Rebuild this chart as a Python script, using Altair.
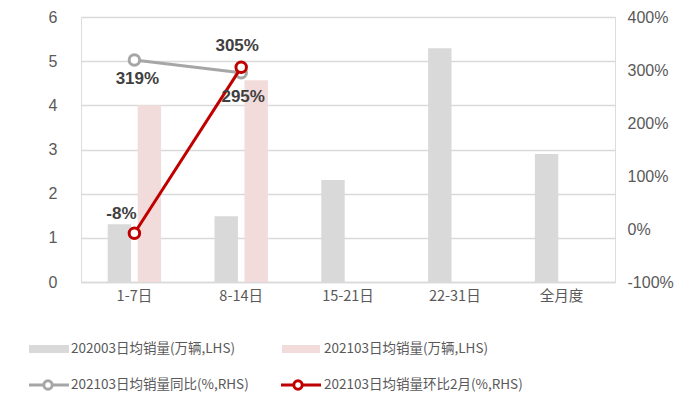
import altair as alt
import pandas as pd

categories = ["1-7日", "8-14日", "15-21日", "22-31日", "全月度"]
sales_2020 = [1.31, 1.49, 2.31, 5.29, 2.90]
sales_2021 = [4.0, 4.57]
yoy_2021 = [319, 295]
mom_2021 = [-8, 305]
left_ticks = [0, 1, 2, 3, 4, 5, 6]
right_ticks = [-100, 0, 100, 200, 300, 400]
legend_labels = ["202003日均销量(万辆,LHS)", "202103日均销量(万辆,LHS)",
                 "202103日均销量同比(%,RHS)", "202103日均销量环比2月(%,RHS)"]

FONT = "Liberation Sans"
CJK = "Noto Sans CJK SC"
GRAY_BAR = "#d9d9d9"
PINK_BAR = "#f2dcdb"
GRAY_LINE = "#a6a6a6"
RED_LINE = "#c00000"
TXT = "#595959"

bars = pd.DataFrame(
    [{"cat": c, "series": "a2020", "value": v} for c, v in zip(categories, sales_2020)]
    + [{"cat": c, "series": "b2021", "value": v} for c, v in zip(categories, sales_2021)]
)
lines = pd.DataFrame(
    [{"cat": c, "series": "yoy", "value": v, "label": f"{v}%", "key": f"yoy{i}"}
     for i, (c, v) in enumerate(zip(categories, yoy_2021))]
    + [{"cat": c, "series": "mom", "value": v, "label": f"{v}%", "key": f"mom{i}"}
       for i, (c, v) in enumerate(zip(categories, mom_2021))]
)

x_enc = alt.X(
    "cat:N", sort=categories,
    scale=alt.Scale(domain=categories, paddingInner=0.5, paddingOuter=0.25),
    axis=alt.Axis(title=None, labelAngle=0, ticks=False, domainColor=GRAY_BAR,
                  domainWidth=1.5, labelColor=TXT, labelFont=CJK, labelFontSize=14.5,
                  labelPadding=7, grid=False),
)

bar_layer = alt.Chart(bars).mark_bar().encode(
    x=x_enc,
    xOffset=alt.XOffset("series:N", scale=alt.Scale(domain=["a2020", "b2021"],
                                                    paddingInner=0.22, paddingOuter=0)),
    y=alt.Y("value:Q", scale=alt.Scale(domain=[0, 6], nice=False),
            axis=alt.Axis(title=None, values=left_ticks, grid=True, gridColor=GRAY_BAR,
                          gridWidth=1.5, domain=False, ticks=False, labelColor=TXT,
                          labelFont=FONT, labelFontSize=16, labelPadding=24)),
    color=alt.Color("series:N", scale=alt.Scale(domain=["a2020", "b2021"],
                                                range=[GRAY_BAR, PINK_BAR]), legend=None),
)

y_r = alt.Y("value:Q", scale=alt.Scale(domain=[-100, 400], nice=False),
            axis=alt.Axis(title=None, orient="right", values=right_ticks, grid=False,
                          domain=False, ticks=False, labelColor=TXT, labelFont=FONT,
                          labelFontSize=16, labelPadding=12,
                          labelExpr="datum.value + '%'"))
stroke_scale = alt.Scale(domain=["yoy", "mom"], range=[GRAY_LINE, RED_LINE])

base_l = alt.Chart(lines)
line_marks = base_l.mark_line(strokeWidth=3).encode(
    x=x_enc, y=y_r,
    stroke=alt.Stroke("series:N", scale=stroke_scale, legend=None),
    detail="series:N",
)
point_marks = base_l.mark_point(shape="circle", filled=True, fill="white",
                                strokeWidth=3, size=110, opacity=1).encode(
    x=x_enc, y=y_r,
    stroke=alt.Stroke("series:N", scale=stroke_scale, legend=None),
)

label_offsets = {"yoy0": (3, 19), "yoy1": (2, 24), "mom1": (-4, -21), "mom0": (-13, -19)}
text_layers = []
for key, (dx, dy) in label_offsets.items():
    text_layers.append(
        base_l.transform_filter(alt.datum.key == key).mark_text(
            font=FONT, fontSize=17, fontWeight="bold", color="#404040", dx=dx, dy=dy
        ).encode(x=x_enc, y=y_r, text="label:N")
    )

line_group = alt.layer(
    line_marks.transform_filter(alt.datum.series == "yoy"),
    point_marks.transform_filter(alt.datum.series == "yoy"),
    line_marks.transform_filter(alt.datum.series == "mom"),
    point_marks.transform_filter(alt.datum.series == "mom"),
    *text_layers,
)

# manual legend (pixel positions in plot coordinates; plot origin at 81,17)
leg_df = pd.DataFrame({"label": legend_labels})
def leg_text(i, x, y):
    return alt.Chart(leg_df).transform_filter(
        alt.datum.label == legend_labels[i]
    ).mark_text(align="left", baseline="middle", font=CJK, fontSize=13.5,
                color=TXT).encode(x=alt.value(x), y=alt.value(y), text="label:N")

dummy = pd.DataFrame({"k": [0]})
def leg_rect(x1, x2, y, color):
    return alt.Chart(dummy).mark_rect(color=color).encode(
        x=alt.value(x1), x2=alt.value(x2), y=alt.value(y - 4), y2=alt.value(y + 4))
def leg_line(x1, x2, y, color):
    return alt.Chart(dummy).mark_rule(color=color, strokeWidth=3).encode(
        x=alt.value(x1), x2=alt.value(x2), y=alt.value(y))
def leg_pt(x, y, color):
    return alt.Chart(dummy).mark_point(shape="circle", filled=True, fill="white",
                                       stroke=color, strokeWidth=3, size=70,
                                       opacity=1).encode(x=alt.value(x), y=alt.value(y))

r1, r2 = 332, 368
legend = alt.layer(
    leg_rect(-52, -12, r1, GRAY_BAR), leg_text(0, -10, r1),
    leg_rect(201, 239, r1, PINK_BAR), leg_text(1, 243, r1),
    leg_line(-52, -12, r2, GRAY_LINE), leg_pt(-33, r2, GRAY_LINE), leg_text(2, -10, r2),
    leg_line(200, 240, r2, RED_LINE), leg_pt(217, r2, RED_LINE), leg_text(3, 243, r2),
)

chart = alt.layer(bar_layer, line_group, legend).resolve_scale(
    y="independent", stroke="independent"
).properties(
    width=534, height=265,
    autosize=alt.AutoSizeParams(type="none"),
    padding={"left": 81, "top": 17, "right": 79, "bottom": 116},
).configure_view(stroke=None).configure(background="white")

chart.save("out.html", embed_options={"renderer": "svg", "actions": False})
